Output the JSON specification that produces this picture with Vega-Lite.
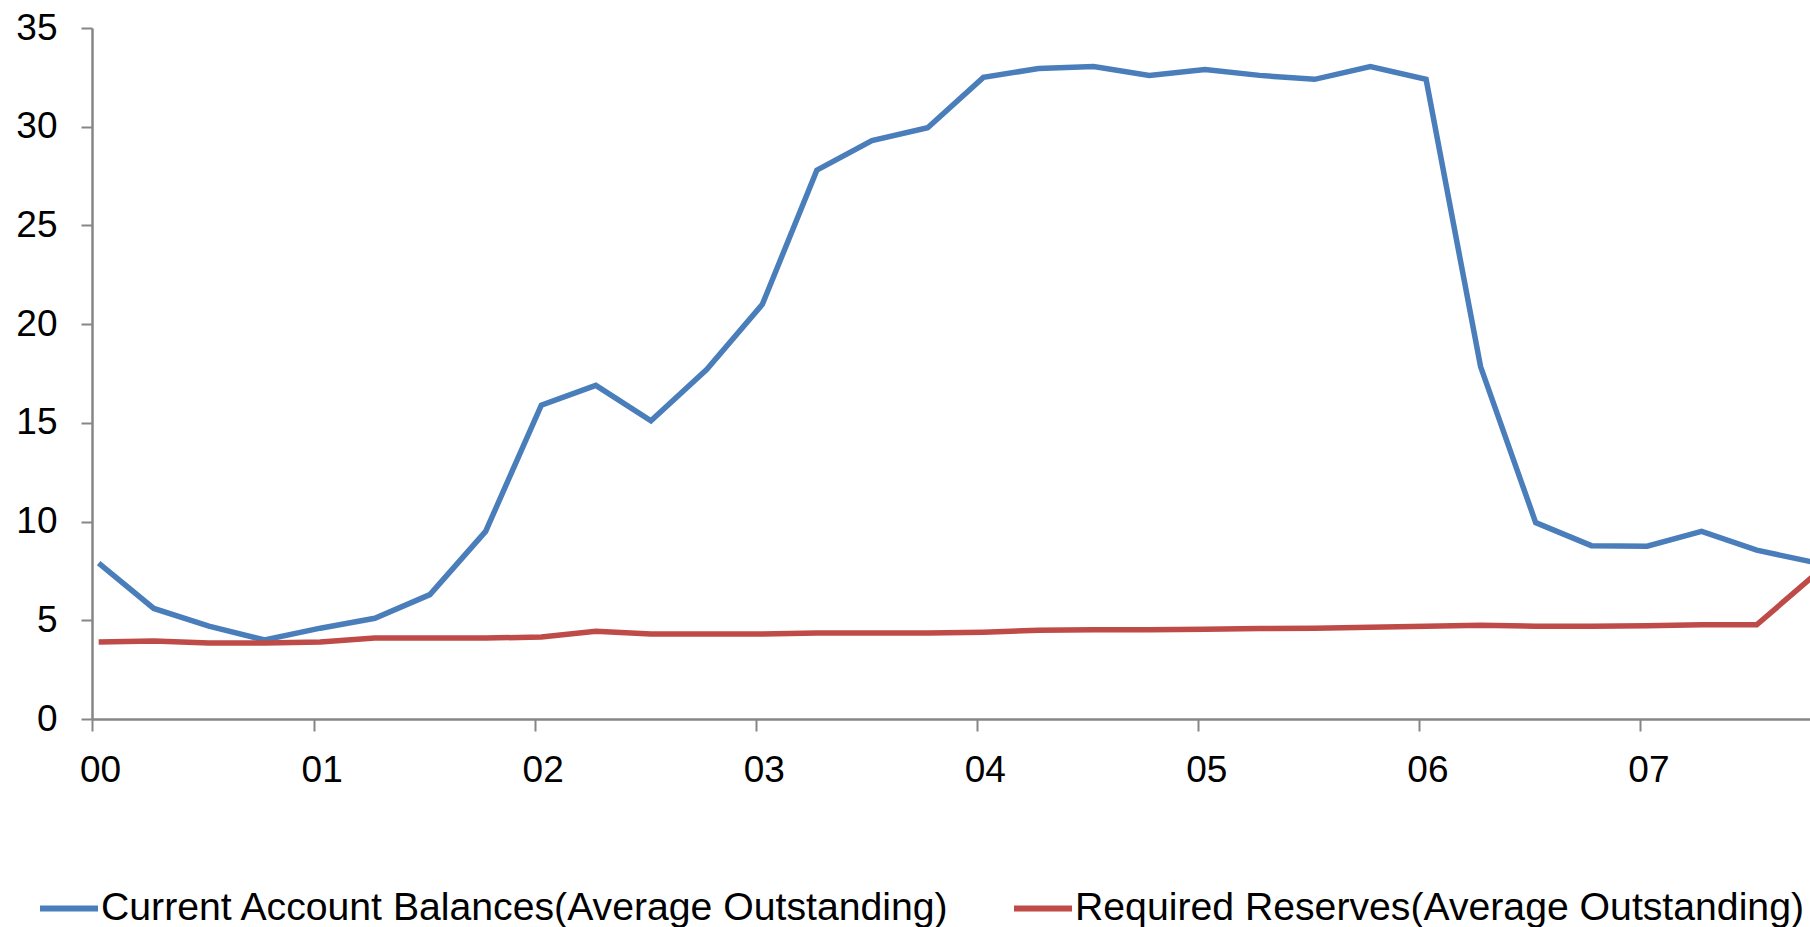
{
  "$schema": "https://vega.github.io/schema/vega-lite/v6.json",
  "width": 1718,
  "height": 691,
  "autosize": {"type": "none"},
  "padding": {"left": 92, "top": 28, "right": 0, "bottom": 208},
  "background": "white",
  "config": {
    "view": {"stroke": null},
    "font": "Liberation Sans",
    "axis": {"grid": false, "domainColor": "#868686", "tickColor": "#868686", "labelColor": "#000000", "labelFont": "Liberation Sans", "labelFontSize": 37, "domainWidth": 2.5, "tickWidth": 2, "tickSize": 11, "title": null}
  },
  "datasets": {
    "series": [
      {"date": "2000-01-12", "series": "Current Account Balances(Average Outstanding)", "value": 7.9},
      {"date": "2000-04-12", "series": "Current Account Balances(Average Outstanding)", "value": 5.6},
      {"date": "2000-07-12", "series": "Current Account Balances(Average Outstanding)", "value": 4.7},
      {"date": "2000-10-12", "series": "Current Account Balances(Average Outstanding)", "value": 4.0},
      {"date": "2001-01-12", "series": "Current Account Balances(Average Outstanding)", "value": 4.6},
      {"date": "2001-04-12", "series": "Current Account Balances(Average Outstanding)", "value": 5.1},
      {"date": "2001-07-12", "series": "Current Account Balances(Average Outstanding)", "value": 6.3},
      {"date": "2001-10-12", "series": "Current Account Balances(Average Outstanding)", "value": 9.5},
      {"date": "2002-01-12", "series": "Current Account Balances(Average Outstanding)", "value": 15.9},
      {"date": "2002-04-12", "series": "Current Account Balances(Average Outstanding)", "value": 16.9},
      {"date": "2002-07-12", "series": "Current Account Balances(Average Outstanding)", "value": 15.1},
      {"date": "2002-10-12", "series": "Current Account Balances(Average Outstanding)", "value": 17.7},
      {"date": "2003-01-12", "series": "Current Account Balances(Average Outstanding)", "value": 21.0},
      {"date": "2003-04-12", "series": "Current Account Balances(Average Outstanding)", "value": 27.8},
      {"date": "2003-07-12", "series": "Current Account Balances(Average Outstanding)", "value": 29.3},
      {"date": "2003-10-12", "series": "Current Account Balances(Average Outstanding)", "value": 29.95},
      {"date": "2004-01-12", "series": "Current Account Balances(Average Outstanding)", "value": 32.5},
      {"date": "2004-04-12", "series": "Current Account Balances(Average Outstanding)", "value": 32.95},
      {"date": "2004-07-12", "series": "Current Account Balances(Average Outstanding)", "value": 33.05},
      {"date": "2004-10-12", "series": "Current Account Balances(Average Outstanding)", "value": 32.6},
      {"date": "2005-01-12", "series": "Current Account Balances(Average Outstanding)", "value": 32.9},
      {"date": "2005-04-12", "series": "Current Account Balances(Average Outstanding)", "value": 32.6},
      {"date": "2005-07-12", "series": "Current Account Balances(Average Outstanding)", "value": 32.4},
      {"date": "2005-10-12", "series": "Current Account Balances(Average Outstanding)", "value": 33.05},
      {"date": "2006-01-12", "series": "Current Account Balances(Average Outstanding)", "value": 32.4},
      {"date": "2006-04-12", "series": "Current Account Balances(Average Outstanding)", "value": 17.85},
      {"date": "2006-07-12", "series": "Current Account Balances(Average Outstanding)", "value": 9.95},
      {"date": "2006-10-12", "series": "Current Account Balances(Average Outstanding)", "value": 8.78},
      {"date": "2007-01-12", "series": "Current Account Balances(Average Outstanding)", "value": 8.75},
      {"date": "2007-04-12", "series": "Current Account Balances(Average Outstanding)", "value": 9.5},
      {"date": "2007-07-12", "series": "Current Account Balances(Average Outstanding)", "value": 8.55},
      {"date": "2007-10-12", "series": "Current Account Balances(Average Outstanding)", "value": 7.95},
      {"date": "2000-01-12", "series": "Required Reserves(Average Outstanding)", "value": 3.9},
      {"date": "2000-04-12", "series": "Required Reserves(Average Outstanding)", "value": 3.95},
      {"date": "2000-07-12", "series": "Required Reserves(Average Outstanding)", "value": 3.85},
      {"date": "2000-10-12", "series": "Required Reserves(Average Outstanding)", "value": 3.85},
      {"date": "2001-01-12", "series": "Required Reserves(Average Outstanding)", "value": 3.9},
      {"date": "2001-04-12", "series": "Required Reserves(Average Outstanding)", "value": 4.1},
      {"date": "2001-07-12", "series": "Required Reserves(Average Outstanding)", "value": 4.1},
      {"date": "2001-10-12", "series": "Required Reserves(Average Outstanding)", "value": 4.1},
      {"date": "2002-01-12", "series": "Required Reserves(Average Outstanding)", "value": 4.15},
      {"date": "2002-04-12", "series": "Required Reserves(Average Outstanding)", "value": 4.45},
      {"date": "2002-07-12", "series": "Required Reserves(Average Outstanding)", "value": 4.3},
      {"date": "2002-10-12", "series": "Required Reserves(Average Outstanding)", "value": 4.3},
      {"date": "2003-01-12", "series": "Required Reserves(Average Outstanding)", "value": 4.3},
      {"date": "2003-04-12", "series": "Required Reserves(Average Outstanding)", "value": 4.35},
      {"date": "2003-07-12", "series": "Required Reserves(Average Outstanding)", "value": 4.35},
      {"date": "2003-10-12", "series": "Required Reserves(Average Outstanding)", "value": 4.35},
      {"date": "2004-01-12", "series": "Required Reserves(Average Outstanding)", "value": 4.4},
      {"date": "2004-04-12", "series": "Required Reserves(Average Outstanding)", "value": 4.5},
      {"date": "2004-07-12", "series": "Required Reserves(Average Outstanding)", "value": 4.52},
      {"date": "2004-10-12", "series": "Required Reserves(Average Outstanding)", "value": 4.52},
      {"date": "2005-01-12", "series": "Required Reserves(Average Outstanding)", "value": 4.55},
      {"date": "2005-04-12", "series": "Required Reserves(Average Outstanding)", "value": 4.58},
      {"date": "2005-07-12", "series": "Required Reserves(Average Outstanding)", "value": 4.6},
      {"date": "2005-10-12", "series": "Required Reserves(Average Outstanding)", "value": 4.65},
      {"date": "2006-01-12", "series": "Required Reserves(Average Outstanding)", "value": 4.7},
      {"date": "2006-04-12", "series": "Required Reserves(Average Outstanding)", "value": 4.75},
      {"date": "2006-07-12", "series": "Required Reserves(Average Outstanding)", "value": 4.7},
      {"date": "2006-10-12", "series": "Required Reserves(Average Outstanding)", "value": 4.7},
      {"date": "2007-01-12", "series": "Required Reserves(Average Outstanding)", "value": 4.72},
      {"date": "2007-04-12", "series": "Required Reserves(Average Outstanding)", "value": 4.78},
      {"date": "2007-07-12", "series": "Required Reserves(Average Outstanding)", "value": 4.77},
      {"date": "2007-10-12", "series": "Required Reserves(Average Outstanding)", "value": 7.2}
    ]
  },
  "data": {"name": "series"},
  "mark": {"type": "line", "strokeWidth": 5.5, "clip": true, "strokeJoin": "miter", "strokeCap": "butt"},
  "encoding": {
    "x": {
      "field": "date",
      "type": "temporal",
      "scale": {"type": "utc", "domain": [{"year": 2000, "month": 1, "date": 1, "utc": true}, {"year": 2007, "month": 10, "date": 8, "utc": true}], "nice": false},
      "axis": {
        "values": [
          {"year": 2000, "month": 1, "date": 1, "utc": true},
          {"year": 2001, "month": 1, "date": 1, "utc": true},
          {"year": 2002, "month": 1, "date": 1, "utc": true},
          {"year": 2003, "month": 1, "date": 1, "utc": true},
          {"year": 2004, "month": 1, "date": 1, "utc": true},
          {"year": 2005, "month": 1, "date": 1, "utc": true},
          {"year": 2006, "month": 1, "date": 1, "utc": true},
          {"year": 2007, "month": 1, "date": 1, "utc": true}
        ],
        "labelExpr": "utcFormat(datum.value, '%y')",
        "labelOffset": 8,
        "labelPadding": 21,
        "labelAlign": "center",
        "labelFlush": false,
        "labelOverlap": false,
        "tickSize": 12
      }
    },
    "y": {
      "field": "value",
      "type": "quantitative",
      "scale": {"domain": [0, 35], "nice": false, "zero": true},
      "axis": {"values": [0, 5, 10, 15, 20, 25, 30, 35], "labelPadding": 24, "tickSize": 11}
    },
    "color": {
      "field": "series",
      "type": "nominal",
      "scale": {"domain": ["Current Account Balances(Average Outstanding)", "Required Reserves(Average Outstanding)"], "range": ["#4a7ebb", "#be4b48"]},
      "legend": {
        "title": null,
        "orient": "none",
        "direction": "horizontal",
        "legendX": -55,
        "legendY": 848,
        "symbolType": "stroke",
        "symbolSize": 3364,
        "symbolStrokeWidth": 6,
        "labelFont": "Liberation Sans",
        "labelFontSize": 39.2,
        "labelColor": "#000000",
        "labelLimit": 2000,
        "labelOffset": 0,
        "columnPadding": 52,
        "padding": 0
      }
    }
  }
}
